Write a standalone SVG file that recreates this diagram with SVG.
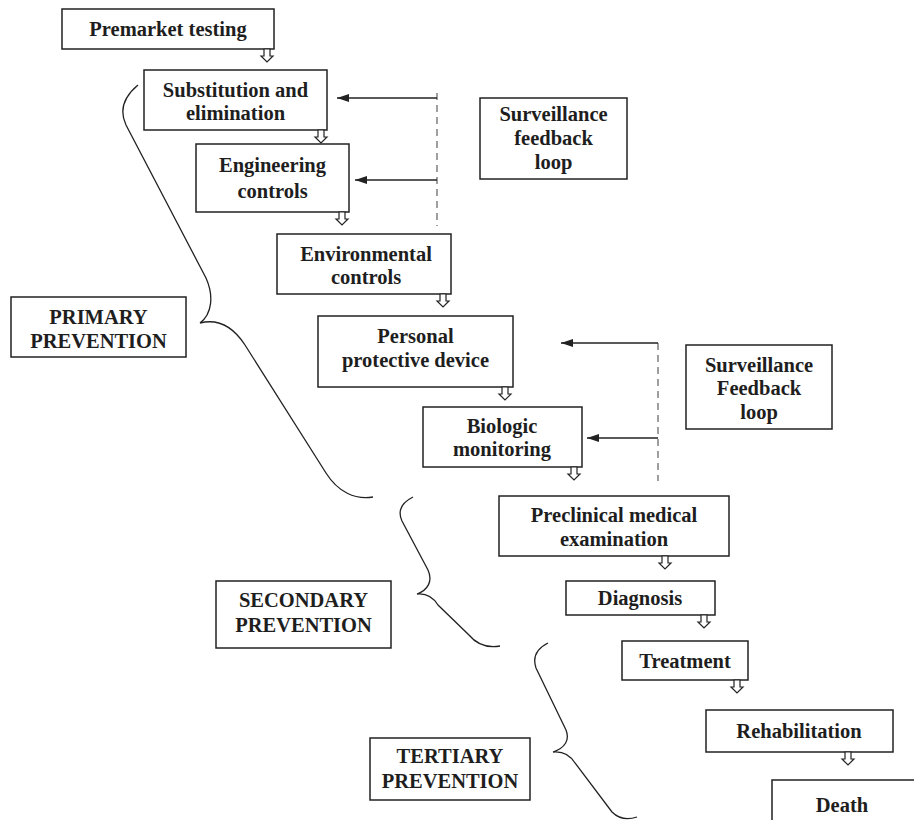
<svg xmlns="http://www.w3.org/2000/svg" width="914" height="820" viewBox="0 0 914 820">
<style>
.box{fill:#fff;stroke:#222;stroke-width:1.5}
.t{font-family:"Liberation Serif","Times New Roman",serif;font-weight:bold;font-size:20.5px;fill:#1e1e1e;text-anchor:middle}
.ha{fill:#fff;stroke:#222;stroke-width:1.2}
.fb{fill:none;stroke:#222;stroke-width:1.3;marker-end:url(#ah)}
.dash{fill:none;stroke:#888;stroke-width:1.6;stroke-dasharray:7,5}
.brace{fill:none;stroke:#222;stroke-width:1.3}
</style>
<defs>
<marker id="ah" viewBox="0 0 12 8" refX="12" refY="4" markerWidth="12" markerHeight="8" markerUnits="userSpaceOnUse" orient="auto">
<path d="M0,0 L12,4 L0,8 z" fill="#222"/>
</marker>
<path id="hollow" class="ha" d="M-3,0 V7 H-6 L0,13 L6,7 H3 V0 z"/>
</defs>

<g id="premarket"><rect class="box" x="62" y="9" width="212" height="40"/><text class="t" x="168" y="36">Premarket testing</text></g>
<g id="substitution"><rect class="box" x="144" y="70" width="183" height="60"/><text class="t" x="235.5" y="97">Substitution and</text><text class="t" x="235.5" y="120">elimination</text></g>
<g id="engineering"><rect class="box" x="196" y="144" width="153" height="68"/><text class="t" x="272.5" y="172">Engineering</text><text class="t" x="272.5" y="198">controls</text></g>
<g id="environmental"><rect class="box" x="277" y="234" width="174" height="60"/><text class="t" x="366" y="261">Environmental</text><text class="t" x="366" y="284">controls</text></g>
<g id="personal"><rect class="box" x="318" y="316" width="195" height="71"/><text class="t" x="415.5" y="343">Personal</text><text class="t" x="415.5" y="367">protective device</text></g>
<g id="biologic"><rect class="box" x="423" y="407" width="159" height="60"/><text class="t" x="502" y="433">Biologic</text><text class="t" x="502" y="456">monitoring</text></g>
<g id="preclinical"><rect class="box" x="499" y="496" width="230" height="60"/><text class="t" x="614" y="522">Preclinical medical</text><text class="t" x="614" y="546">examination</text></g>
<g id="diagnosis"><rect class="box" x="566" y="581" width="149" height="34"/><text class="t" x="640" y="605">Diagnosis</text></g>
<g id="treatment"><rect class="box" x="622" y="641" width="126" height="39"/><text class="t" x="685" y="668">Treatment</text></g>
<g id="rehabilitation"><rect class="box" x="706" y="710" width="187" height="42"/><text class="t" x="799" y="738">Rehabilitation</text></g>
<g id="death"><rect class="box" x="772" y="780" width="160" height="60"/><text class="t" x="842" y="812">Death</text></g>

<g id="surveillance1"><rect class="box" x="480" y="98" width="147" height="81"/><text class="t" x="553.5" y="121">Surveillance</text><text class="t" x="553.5" y="145">feedback</text><text class="t" x="553.5" y="169">loop</text></g>
<g id="surveillance2"><rect class="box" x="686" y="345" width="146" height="84"/><text class="t" x="759" y="372">Surveillance</text><text class="t" x="759" y="395">Feedback</text><text class="t" x="759" y="419">loop</text></g>

<g id="primary"><rect class="box" x="11" y="297" width="175" height="60"/><text class="t" x="98.5" y="324">PRIMARY</text><text class="t" x="98.5" y="348">PREVENTION</text></g>
<g id="secondary"><rect class="box" x="216" y="581" width="175" height="67"/><text class="t" x="303.5" y="607">SECONDARY</text><text class="t" x="303.5" y="632">PREVENTION</text></g>
<g id="tertiary"><rect class="box" x="370" y="738" width="160" height="62"/><text class="t" x="450" y="763">TERTIARY</text><text class="t" x="450" y="788">PREVENTION</text></g>

<g id="connectors">
<use href="#hollow" x="267" y="49"/>
<use href="#hollow" x="321" y="130"/>
<use href="#hollow" x="342" y="212"/>
<use href="#hollow" x="443" y="294"/>
<use href="#hollow" x="505" y="387"/>
<use href="#hollow" x="574" y="467"/>
<use href="#hollow" x="665" y="556"/>
<use href="#hollow" x="704" y="615"/>
<use href="#hollow" x="737" y="680"/>
<use href="#hollow" x="848" y="752"/>

<line class="dash" x1="437" y1="93" x2="437" y2="226"/>
<line class="dash" x1="658" y1="343" x2="658" y2="481"/>
<line class="fb" x1="437" y1="98" x2="337" y2="98"/>
<line class="fb" x1="437" y1="180" x2="355" y2="180"/>
<line class="fb" x1="658" y1="343" x2="561" y2="343"/>
<line class="fb" x1="658" y1="438" x2="587" y2="438"/>

<path class="brace" d="M138,85 C126,95 118,108 126,125 L206,278 C214,296 212,314 200,323 C216,319 232,325 245,345 L326,473 C338,492 355,500 373,497"/>
<path class="brace" d="M413,497 C403,502 397,510 402,521 L428,570 C433,581 428,590 417,594 C427,593 433,597 438,605 L469,635 C478,646 488,648 500,646"/>
<path class="brace" d="M548,643 C538,648 532,656 536,668 L566,730 C570,740 565,748 553,752 C563,751 570,755 575,763 L612,812 C620,820 628,820 637,817"/>
</g>
</svg>
